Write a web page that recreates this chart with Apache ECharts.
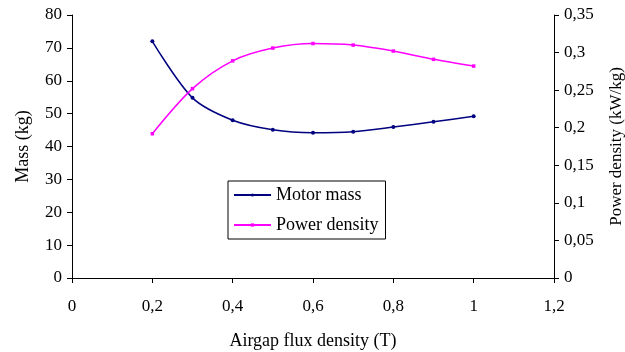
<!DOCTYPE html>
<html><head><meta charset="utf-8">
<script src="https://cdn.jsdelivr.net/npm/echarts@6/dist/echarts.min.js"></script>
<style>html,body{margin:0;padding:0;background:#fff}#c{width:625px;height:352px}</style>
</head><body><div id="c"></div>
<script>
const flux = [0.2, 0.3, 0.4, 0.5, 0.6, 0.7, 0.8, 0.9, 1.0];
const motorMass = [72, 54.8, 48.0, 45.1, 44.2, 44.5, 45.9, 47.5, 49.2];
const powerDensity = [0.192, 0.252, 0.289, 0.306, 0.312, 0.310, 0.302, 0.291, 0.282];
const seriesNames = ['Motor mass', 'Power density'];

const font = 'Liberation Serif';
const comma = v => String(+v.toFixed(2)).replace('.', ',');
const chart = echarts.init(document.getElementById('c'), null, {renderer: 'canvas'});
chart.setOption({
  animation: false,
  textStyle: {fontFamily: font},
  grid: {left: 72, right: 71, top: 15, bottom: 74, containLabel: false, outerBoundsMode: 'none'},
  legend: {
    orient: 'vertical', left: 228, top: 181,
    data: seriesNames,
    borderColor: '#000', borderWidth: 1, padding: [5, 7, 5, 5],
    itemWidth: 37, itemHeight: 4, itemGap: 12, itemStyle: {borderWidth: 0},
    textStyle: {fontFamily: font, fontSize: 18, color: '#000'}
  },
  xAxis: {
    type: 'value', min: 0, max: 1.2, interval: 0.2,
    name: 'Airgap flux density (T)', nameLocation: 'middle', nameGap: 54,
    nameTextStyle: {fontFamily: font, fontSize: 18, color: '#000'},
    axisLine: {lineStyle: {color: '#000', width: 1}},
    axisTick: {show: true, length: 5, lineStyle: {color: '#000'}},
    axisLabel: {formatter: comma, fontFamily: font, fontSize: 17, color: '#000', margin: 20},
    splitLine: {show: false}
  },
  yAxis: [{
    type: 'value', min: 0, max: 80, interval: 10,
    name: 'Mass (kg)', nameLocation: 'middle', nameGap: 40, nameRotate: 90,
    nameTextStyle: {fontFamily: font, fontSize: 18, color: '#000'},
    axisLine: {show: true, lineStyle: {color: '#000'}},
    axisTick: {show: true, length: 5, lineStyle: {color: '#000'}},
    axisLabel: {fontFamily: font, fontSize: 17, color: '#000', margin: 10},
    splitLine: {show: false}
  }, {
    type: 'value', min: 0, max: 0.35, interval: 0.05, position: 'right',
    name: 'Power density (kW/kg)', nameLocation: 'middle', nameGap: 54, nameRotate: 90,
    nameTextStyle: {fontFamily: font, fontSize: 17, color: '#000'},
    axisLine: {show: true, lineStyle: {color: '#000'}},
    axisTick: {show: true, length: 5, lineStyle: {color: '#000'}},
    axisLabel: {formatter: comma, fontFamily: font, fontSize: 17, color: '#000', margin: 10},
    splitLine: {show: false}
  }],
  series: [{
    name: seriesNames[0], type: 'line', yAxisIndex: 0, smooth: 0.3,
    data: flux.map((x, i) => [x, motorMass[i]]),
    symbol: 'circle', symbolSize: 4,
    lineStyle: {color: '#000080', width: 1.5}, itemStyle: {color: '#000080'}
  }, {
    name: seriesNames[1], type: 'line', yAxisIndex: 1, smooth: 0.3,
    data: flux.map((x, i) => [x, powerDensity[i]]),
    symbol: 'rect', symbolSize: 3.5,
    lineStyle: {color: '#ff00ff', width: 1.5}, itemStyle: {color: '#ff00ff'}
  }]
});
</script></body></html>
